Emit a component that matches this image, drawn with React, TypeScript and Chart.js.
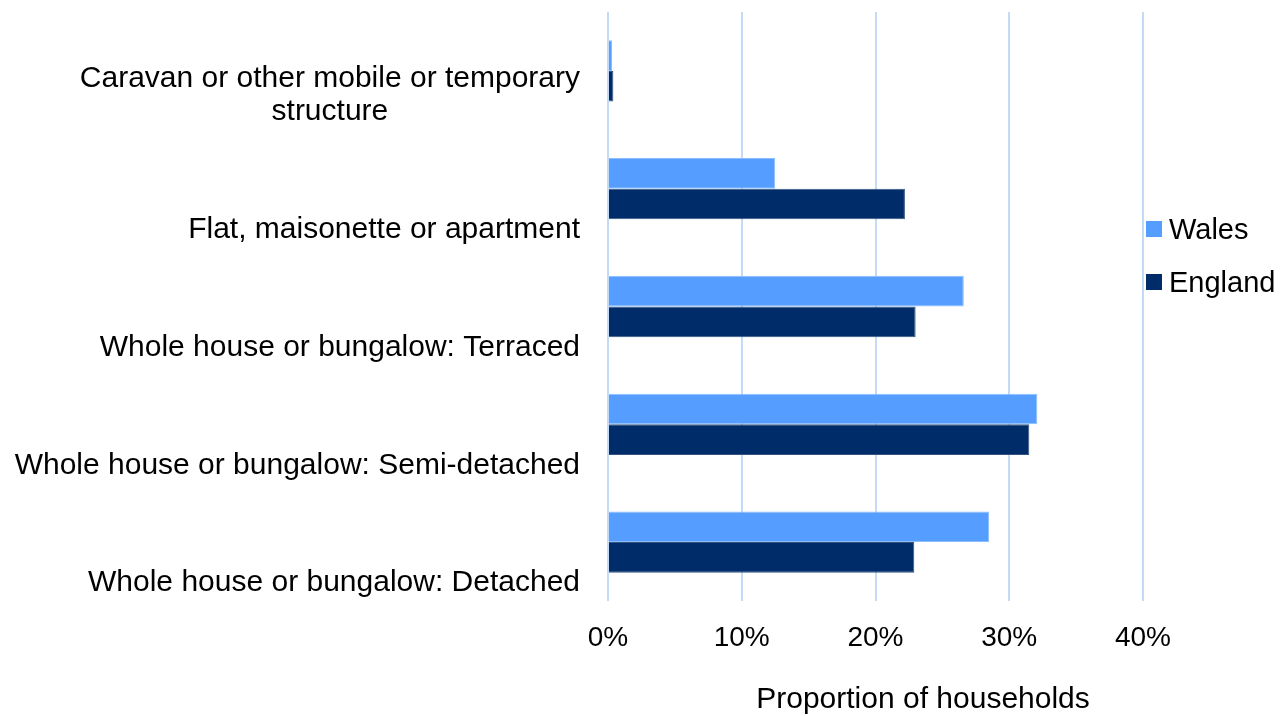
import React, { useEffect, useRef } from "react";
import { Chart, registerables } from "chart.js";

Chart.register(...registerables);

const categories: string[][] = [
  ["Caravan or other mobile or temporary", "structure"],
  ["Flat, maisonette or apartment"],
  ["Whole house or bungalow: Terraced"],
  ["Whole house or bungalow: Semi-detached"],
  ["Whole house or bungalow: Detached"],
];
const seriesNames = ["Wales", "England"];
const walesValues = [0.3, 12.5, 26.6, 32.1, 28.5];
const englandValues = [0.4, 22.2, 23.0, 31.5, 22.9];
const xTicks = [0, 10, 20, 30, 40];
const axisTitle = "Proportion of households";

const WALES_COLOR = "#559EFF";
const ENGLAND_COLOR = "#002D6A";
const GRID_COLOR = "#C4DBF8";
const FONT = '"Liberation Sans", Arial, sans-serif';

const overlayPlugin = {
  id: "overlay",
  afterDraw(chart: any) {
    const ctx = chart.ctx;
    const yScale = chart.scales.y;
    ctx.save();
    ctx.fillStyle = "#000000";
    ctx.font = `30px ${FONT}`;
    ctx.textBaseline = "middle";
    const lineH = 33;
    categories.forEach((lines, i) => {
      const yc = yScale.getPixelForValue(i) + 41;
      const n = lines.length;
      lines.forEach((line, j) => {
        const y = yc - (n - 1 - j) * lineH;
        if (n > 1) {
          ctx.textAlign = "center";
          const w = ctx.measureText(lines[0]).width;
          ctx.fillText(line, 580 - w / 2, y);
        } else {
          ctx.textAlign = "right";
          ctx.fillText(line, 580, y);
        }
      });
    });
    // legend
    const colors = [WALES_COLOR, ENGLAND_COLOR];
    const legendY = [229, 282];
    ctx.textAlign = "left";
    ctx.font = `29px ${FONT}`;
    seriesNames.forEach((name, i) => {
      ctx.fillStyle = colors[i];
      ctx.fillRect(1146, legendY[i] - 8, 16, 16);
      ctx.fillStyle = "#000000";
      ctx.fillText(name, 1169, legendY[i] + 2);
    });
    // axis title
    ctx.textAlign = "center";
    ctx.font = `30px ${FONT}`;
    ctx.fillText(axisTitle, 923, 700);
    ctx.restore();
  },
};

export default function App() {
  const canvasRef = useRef<HTMLCanvasElement | null>(null);

  useEffect(() => {
    document.body.style.margin = "0";
    const canvas = canvasRef.current;
    if (!canvas) return;
    const chart = new Chart(canvas, {
      type: "bar",
      data: {
        labels: categories.map((l) => l.join(" ")),
        datasets: [
          {
            label: seriesNames[0],
            data: walesValues,
            backgroundColor: WALES_COLOR,
            borderColor: "#8CBEFF",
            borderWidth: 1,
            barPercentage: 1,
            categoryPercentage: 0.52,
          },
          {
            label: seriesNames[1],
            data: englandValues,
            backgroundColor: ENGLAND_COLOR,
            borderColor: "#33557F",
            borderWidth: 1,
            barPercentage: 1,
            categoryPercentage: 0.52,
          },
        ],
      },
      options: {
        indexAxis: "y",
        animation: false,
        responsive: false,
        maintainAspectRatio: false,
        layout: { padding: { left: 0, right: 145, top: 12, bottom: 0 } },
        plugins: {
          legend: { display: false },
          tooltip: { enabled: false },
          title: { display: false },
        },
        scales: {
          x: {
            type: "linear",
            min: 0,
            max: 40,
            afterBuildTicks: (scale: any) => {
              scale.ticks = xTicks.map((v) => ({ value: v }));
            },
            afterFit: (scale: any) => {
              scale.height = 115;
            },
            grid: {
              color: GRID_COLOR,
              lineWidth: 2,
              drawTicks: false,
            },
            border: { display: false },
            ticks: {
              padding: 20,
              color: "#000000",
              font: { family: FONT, size: 28 },
              callback: (v: any) => `${v}%`,
            },
          },
          y: {
            grid: { display: false },
            border: { display: false },
            afterFit: (scale: any) => {
              scale.width = 608;
            },
            ticks: { display: false },
          },
        },
      },
      plugins: [overlayPlugin],
    });
    return () => chart.destroy();
  }, []);

  return (
    <div style={{ width: 1288, height: 716, background: "#ffffff" }}>
      <canvas ref={canvasRef} width={1288} height={716} style={{ display: "block" }} />
    </div>
  );
}
